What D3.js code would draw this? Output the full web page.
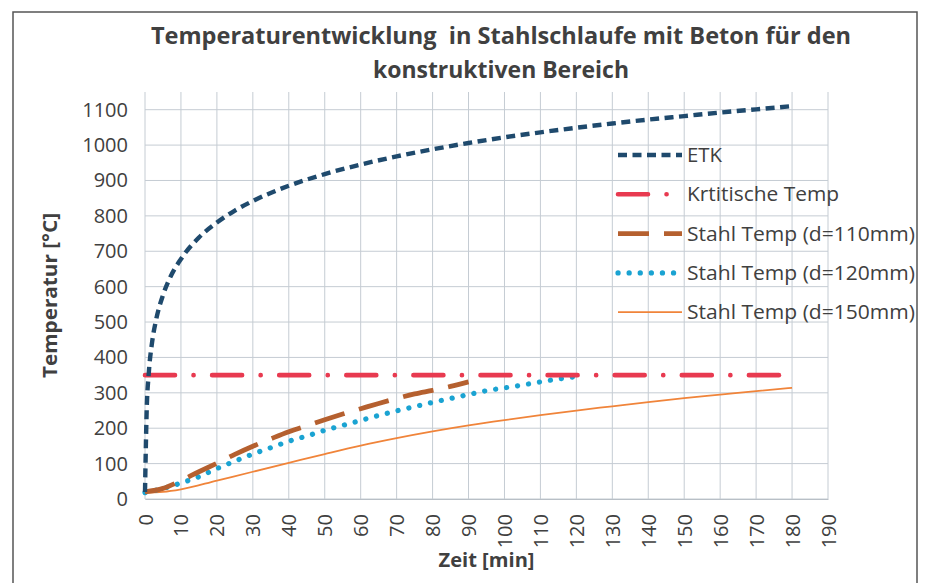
<!DOCTYPE html>
<html>
<head>
<meta charset="utf-8">
<script src="https://cdn.jsdelivr.net/npm/d3@7"></script>
<style>
  body { margin: 0; background: #fff; }
  svg { display: block; }
  text { font-family: "Open Sans", "Liberation Sans", sans-serif; fill: #404040; }
</style>
</head>
<body>
<svg id="chart"></svg>
<script>
// data
var titleLines = ['Temperaturentwicklung  in Stahlschlaufe mit Beton für den', 'konstruktiven Bereich'];
var xTicks = [0, 10, 20, 30, 40, 50, 60, 70, 80, 90, 100, 110, 120, 130, 140, 150, 160, 170, 180, 190];
var yTicks = [0, 100, 200, 300, 400, 500, 600, 700, 800, 900, 1000, 1100];

var etkTime = [0, 0.5, 1, 2, 3, 5, 7, 10, 15, 20, 25, 30, 40, 50, 60, 70, 80, 90, 100, 110, 120, 130, 140, 150, 160, 170, 180];
var etkTemp = [20, 261, 349, 445, 502, 576, 626, 678, 739, 781, 815, 842, 885, 918, 945, 968, 988, 1006, 1022, 1036, 1049, 1061, 1072, 1082, 1092, 1101, 1110];

var kritTime = [0, 180];
var kritTemp = [350, 350];

var s110Time = [0, 5, 10, 15, 20, 25, 30, 35, 40, 45, 50, 55, 60, 65, 70, 75, 80, 85, 90];
var s110Temp = [20, 30, 52, 77, 101, 126, 149, 170, 190, 207, 224, 240, 255, 270, 284, 297, 307, 318, 331];

var s120Time = [0, 5, 10, 15, 20, 25, 30, 35, 40, 45, 50, 55, 60, 65, 70, 75, 80, 85, 90, 95, 100, 105, 110, 115, 120];
var s120Temp = [18, 30, 45, 63, 86, 107, 127, 145, 163, 178, 194, 208, 222, 236, 249, 261, 273, 284, 295, 306, 314, 322, 331, 339, 346];

var s150Time = [0, 5, 10, 20, 30, 40, 50, 60, 70, 80, 90, 100, 110, 120, 130, 140, 150, 160, 170, 180];
var s150Temp = [18, 20, 27, 52, 77, 102, 127, 151, 172, 191, 208, 223, 237, 250, 262, 274, 285, 295, 305, 314];

var seriesNames = ['ETK', 'Krtitische Temp', 'Stahl Temp (d=110mm)', 'Stahl Temp (d=120mm)', 'Stahl Temp (d=150mm)'];

var config = {
  svgWidth: 925,
  svgHeight: 583,
  gMargin: { top: 92, left: 145, right: 97, bottom: 84 },
  xMax: 190,
  yMax: 1150,
  gridColor: '#c5ccd3',
  tickFontSize: 20,
  legendX: 473,
  legendY: 63,
  legendRowHeight: 39.3,
  legendLineLength: 64,
}

var styles = [
  { color: '#1f4a6d', width: 4.4, dash: '9 5.5', cap: 'butt' },
  { color: '#e83a50', width: 4.6, dash: '30 18.5 0.1 18.5', cap: 'round' },
  { color: '#b5602f', width: 4.8, dash: '31 15', cap: 'butt' },
  { color: '#1aa3d2', width: 5.2, dash: '0.1 11', cap: 'round' },
  { color: '#f0843a', width: 1.8, dash: null, cap: 'butt' },
];

var svg = d3.select('#chart')
  .attr('width', config.svgWidth)
  .attr('height', config.svgHeight);

// outer chart border
svg.append('rect')
  .attr('x', 13)
  .attr('y', 12)
  .attr('width', 904)
  .attr('height', 590)
  .attr('fill', 'none')
  .attr('stroke', '#555')
  .attr('stroke-width', 1.5);

var gWidth = config.svgWidth - config.gMargin.left - config.gMargin.right;
var gHeight = config.svgHeight - config.gMargin.top - config.gMargin.bottom;

var g = svg.append('g')
  .attr('transform', 'translate(' + config.gMargin.left + ',' + config.gMargin.top + ')');

var x = d3.scaleLinear().range([0, gWidth]).domain([0, config.xMax]);
var y = d3.scaleLinear().range([gHeight, 0]).domain([0, config.yMax]);

// gridlines
g.selectAll('.vgrid')
  .data(xTicks)
  .enter().append('line')
  .attr('x1', function(d) { return x(d) })
  .attr('x2', function(d) { return x(d) })
  .attr('y1', 0)
  .attr('y2', gHeight)
  .attr('stroke', config.gridColor)
  .attr('stroke-width', 1);
g.selectAll('.hgrid')
  .data(yTicks)
  .enter().append('line')
  .attr('x1', 0)
  .attr('x2', gWidth)
  .attr('y1', function(d) { return y(d) })
  .attr('y2', function(d) { return y(d) })
  .attr('stroke', config.gridColor)
  .attr('stroke-width', 1);

// axes, only used for the labels
var yAxis = g.append('g')
  .call(d3.axisLeft(y).tickValues(yTicks).tickFormat(d3.format('d')).tickSize(0).tickPadding(17));
yAxis.select('.domain').remove();
yAxis.selectAll('text')
  .attr('font-size', config.tickFontSize)
  .style('font-family', '"Open Sans", sans-serif')
  .attr('fill', '#333');

var xAxis = g.append('g')
  .attr('transform', 'translate(0,' + gHeight + ')')
  .call(d3.axisBottom(x).tickValues(xTicks).tickFormat(d3.format('d')).tickSize(0));
xAxis.select('.domain').attr('stroke', '#b8bfc6');
xAxis.selectAll('text')
  .attr('font-size', config.tickFontSize)
  .style('font-family', '"Open Sans", sans-serif')
  .attr('fill', '#333')
  .attr('text-anchor', 'end')
  .attr('transform', 'rotate(-90)')
  .attr('x', -15)
  .attr('y', 0)
  .attr('dy', '0.35em');

// axis titles
g.append('text')
  .attr('transform', 'translate(-88,' + (gHeight / 2) + ') rotate(-90)')
  .attr('text-anchor', 'middle')
  .attr('font-size', 19)
  .attr('font-weight', 'bold')
  .attr('fill', '#333')
  .attr('textLength', 165)
  .attr('lengthAdjust', 'spacingAndGlyphs')
  .text('Temperatur [°C]');

g.append('text')
  .attr('x', gWidth / 2)
  .attr('y', gHeight + 68)
  .attr('text-anchor', 'middle')
  .attr('font-size', 20)
  .attr('font-weight', 'bold')
  .attr('fill', '#333')
  .attr('textLength', 96)
  .attr('lengthAdjust', 'spacingAndGlyphs')
  .text('Zeit [min]');

// title
var titleWidths = [700, 256];
titleLines.forEach(function(t, i) {
  svg.append('text')
    .attr('x', 501)
    .attr('y', 44 + i * 34)
    .attr('text-anchor', 'middle')
    .attr('font-size', 24)
    .attr('font-weight', 'bold')
    .attr('fill', '#333')
    .attr('textLength', titleWidths[i])
    .attr('lengthAdjust', 'spacingAndGlyphs')
    .style('white-space', 'pre')
    .text(t);
});

// lines
var line = d3.line()
  .x(function(e) { return x(e[0]) })
  .y(function(e) { return y(e[1]) })
  .curve(d3.curveMonotoneX);

var seriesData = [
  d3.zip(etkTime, etkTemp),
  d3.zip(kritTime, kritTemp),
  d3.zip(s110Time, s110Temp),
  d3.zip(s120Time, s120Temp),
  d3.zip(s150Time, s150Temp),
];

var drawOrder = [4, 3, 2, 1, 0];
drawOrder.forEach(function(i) {
  g.append('path')
    .attr('d', line(seriesData[i]))
    .attr('fill', 'none')
    .attr('stroke', styles[i].color)
    .attr('stroke-width', styles[i].width)
    .attr('stroke-dasharray', styles[i].dash)
    .attr('stroke-linecap', styles[i].cap);
});

// legend
var legend = g.append('g')
  .attr('transform', 'translate(' + config.legendX + ',' + config.legendY + ')');
var legendTextWidths = [35, 152, 228, 228, 228];
seriesNames.forEach(function(name, i) {
  var row = legend.append('g')
    .attr('transform', 'translate(0,' + (i * config.legendRowHeight) + ')');
  row.append('line')
    .attr('x1', 0)
    .attr('x2', config.legendLineLength)
    .attr('stroke', styles[i].color)
    .attr('stroke-width', styles[i].width)
    .attr('stroke-dasharray', styles[i].dash)
    .attr('stroke-linecap', styles[i].cap);
  row.append('text')
    .attr('x', config.legendLineLength + 5)
    .attr('dy', '0.35em')
    .attr('font-size', 20)
    .attr('fill', '#333')
    .attr('textLength', legendTextWidths[i])
    .attr('lengthAdjust', 'spacingAndGlyphs')
    .text(name);
});
</script>
</body>
</html>
